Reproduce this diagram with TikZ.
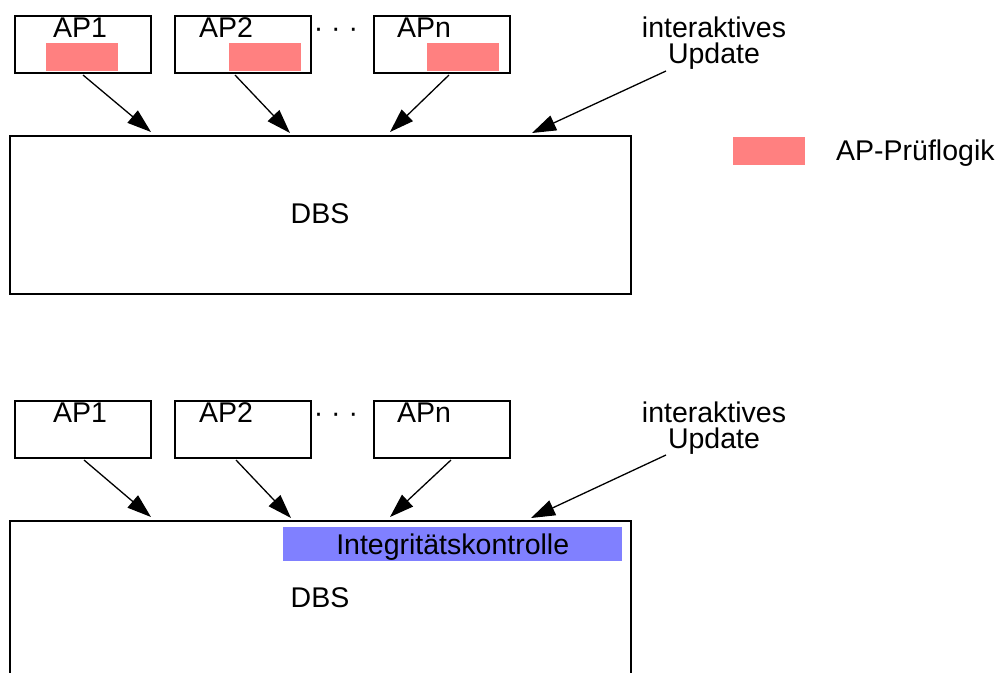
\documentclass[tikz,border=0pt]{standalone}
\usepackage{fontspec}
\setmainfont{Liberation Sans}
\usetikzlibrary{arrows.meta,calc}
\definecolor{pruef}{HTML}{FF8080}
\definecolor{integ}{HTML}{8080FF}
\begin{document}
\begin{tikzpicture}[x=1pt,y=-1pt,
  txt/.style={font=\fontsize{28.5}{31}\selectfont, inner sep=0pt, anchor=base},
  apbox/.style={draw, line width=2pt, minimum width=136pt, minimum height=57pt, anchor=north west, inner sep=0pt},
  dbsbox/.style={draw, line width=2pt, minimum width=621pt, anchor=north west, inner sep=0pt},
  redbar/.style={fill=pruef, minimum width=72pt, minimum height=28pt, anchor=north west, inner sep=0pt},
  conn/.style={line width=1.3pt, -{Triangle[length=24pt,width=16pt]}}]
\useasboundingbox (0,0) rectangle (1001,672);
\clip (0,0) rectangle (1001,672);
% ---------- top diagram ----------
\node[apbox] (ap1t) at (14,15) {};
\node[apbox] (ap2t) at (174,15) {};
\node[apbox] (apnt) at (373,15) {};
\node[redbar] (r1) at (46,43) {};
\node[redbar] (r2) at (229,43) {};
\node[redbar] (rn) at (427,43) {};
\node[txt] (t1) at (80,37) {AP1};
\node[txt] (t2) at (226,37) {AP2};
\node[txt] (tn) at (424,37) {APn};
\node[txt] (dt) at (336,37) {· · ·};
\node[txt] (upt1) at (714,37) {interaktives};
\node[txt] (upt2) at (714,63) {Update};
\node[dbsbox, minimum height=158pt] (dbs1) at (9,135) {};
\node[txt] (dbst1) at (320,223) {DBS};
\coordinate (u1) at (666,71);
\draw[conn] ($(ap1t.south west)+(69,1)$) -- ($(dbs1.north west)+(142,-3)$);
\draw[conn] ($(ap2t.south west)+(61,1)$) -- ($(dbs1.north west)+(281,-2)$);
\draw[conn] ($(apnt.south west)+(76,1)$) -- ($(dbs1.north west)+(381,-3)$);
\draw[conn] (u1) -- ($(dbs1.north west)+(523,-2)$);
% legend
\node[fill=pruef, minimum width=72pt, minimum height=28pt, anchor=north west, inner sep=0pt] (leg) at (733,137) {};
\node[txt, anchor=base west] (legt) at (836,160) {AP-Prüflogik};
% ---------- bottom diagram ----------
\node[apbox] (ap1b) at (14,400) {};
\node[apbox] (ap2b) at (174,400) {};
\node[apbox] (apnb) at (373,400) {};
\node[txt] (b1) at (80,422) {AP1};
\node[txt] (b2) at (226,422) {AP2};
\node[txt] (bn) at (424,422) {APn};
\node[txt] (db) at (336,422) {· · ·};
\node[txt] (upb1) at (714,422) {interaktives};
\node[txt] (upb2) at (714,448) {Update};
\node[dbsbox, minimum height=200pt] (dbs2) at (9,520) {};
\node[fill=integ, minimum width=339pt, minimum height=34pt, anchor=north west, inner sep=0pt,
      font=\fontsize{28.5}{31}\selectfont, text height=20.4pt, text depth=0pt] (ik) at (283,527) {Integritätskontrolle};
\node[txt] (dbst2) at (320,607) {DBS};
\coordinate (u2) at (666,455);
\draw[conn] ($(ap1b.south west)+(70,1)$) -- ($(dbs2.north west)+(142,-3)$);
\draw[conn] ($(ap2b.south west)+(62,1)$) -- ($(dbs2.north west)+(282,-2)$);
\draw[conn] ($(apnb.south west)+(78,1)$) -- ($(dbs2.north west)+(381,-3)$);
\draw[conn] (u2) -- ($(dbs2.north west)+(522,-2)$);
\end{tikzpicture}
\end{document}
